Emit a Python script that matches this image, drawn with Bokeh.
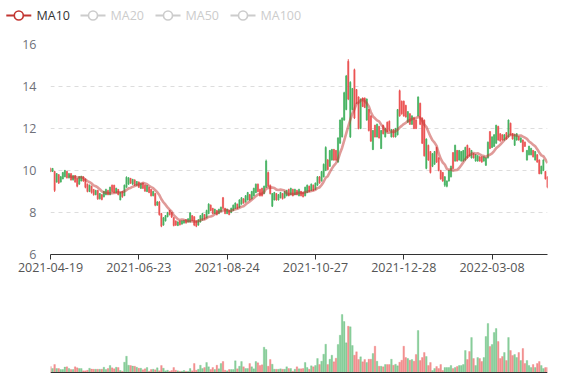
import math
from bokeh.plotting import figure
from bokeh.models import ColumnDataSource, Range1d, FixedTicker, Span
from bokeh.layouts import column
from bokeh.embed import file_html
from bokeh.resources import INLINE
from bokeh.core.properties import value

# ---------------- data ----------------
tick_index = [0, 43, 86, 129, 172, 215]
tick_labels = ["2021-04-19", "2021-06-23", "2021-08-24", "2021-10-27", "2021-12-28", "2022-03-08"]
legend_names = ["MA10", "MA20", "MA50", "MA100"]

open_ = [
    10.10, 9.95, 9.95, 9.45, 9.80, 9.45, 9.60, 9.70, 9.95, 9.65,
    9.85, 9.55, 9.75, 9.60, 9.35, 9.50, 9.70, 9.60, 9.35, 9.00,
    9.25, 9.10, 8.85, 9.05, 8.65, 8.85, 8.75, 8.85, 9.05, 8.85,
    9.30, 9.30, 8.95, 9.10, 8.60, 9.00, 8.80, 9.20, 9.35, 9.62,
    9.35, 9.55, 9.30, 9.45, 9.15, 9.40, 9.30, 9.00, 9.20, 9.10,
    8.80, 8.90, 8.35, 8.50, 7.95, 7.40, 7.60, 7.80, 8.10, 8.00,
    7.75, 7.60, 7.38, 7.60, 7.45, 7.50, 7.65, 7.55, 7.55, 7.85,
    7.80, 7.60, 7.40, 7.55, 7.65, 7.90, 7.75, 7.95, 8.35, 8.20,
    7.95, 8.10, 7.95, 8.05, 8.70, 8.20, 7.95, 8.10, 8.00, 8.10,
    8.20, 8.40, 8.25, 8.40, 8.65, 8.50, 8.60, 8.85, 8.65, 8.80,
    8.95, 9.35, 9.10, 9.15, 8.90, 9.20, 9.90, 9.30, 8.30, 8.60,
    8.90, 8.60, 8.70, 8.90, 8.70, 8.80, 9.10, 8.85, 9.10, 8.85,
    9.05, 8.80, 9.00, 8.95, 8.80, 8.95, 9.25, 9.05, 9.30, 9.10,
    9.30, 9.70, 9.50, 9.70, 10.00, 10.50, 10.20, 10.50, 11.00, 10.95,
    10.40, 11.30, 11.60, 12.40, 12.90, 15.20, 11.60, 12.90, 14.80, 13.85,
    13.50, 12.00, 13.45, 13.45, 12.40, 12.90, 12.60, 11.00, 12.15, 11.60,
    12.10, 11.05, 12.15, 11.60, 12.30, 12.35, 11.60, 11.95, 11.60, 11.70,
    13.80, 13.30, 13.30, 13.10, 12.30, 12.70, 12.20, 12.50, 12.40, 12.60,
    13.20, 12.50, 12.40, 10.10, 11.20, 10.90, 10.20, 10.30, 11.10, 10.60,
    10.00, 9.90, 9.30, 9.25, 9.50, 9.70, 10.85, 10.45, 10.95, 10.50,
    10.45, 10.45, 10.50, 11.20, 11.05, 10.60, 10.80, 10.45, 10.45, 10.65,
    10.65, 10.45, 10.25, 10.60, 11.85, 11.10, 11.15, 11.30, 12.10, 11.75,
    11.70, 11.45, 11.80, 11.60, 12.25, 11.75, 11.20, 11.45, 11.60, 11.35,
    11.45, 11.35, 10.50, 10.75, 10.75, 10.95, 10.50, 10.75, 10.50, 9.85,
    10.00, 9.95, 9.70,
]
close = [
    9.95, 10.10, 9.05, 9.85, 9.40, 9.70, 9.90, 10.00, 9.65, 9.85,
    9.55, 9.75, 9.45, 9.25, 9.70, 9.72, 9.50, 9.20, 9.00, 9.30,
    8.95, 8.85, 9.05, 8.65, 8.90, 8.62, 9.00, 9.10, 8.85, 9.20,
    9.00, 8.95, 9.15, 8.85, 8.95, 8.75, 9.30, 9.68, 9.65, 9.40,
    9.58, 9.30, 9.48, 9.20, 9.38, 9.15, 9.02, 9.28, 8.95, 8.80,
    9.00, 8.35, 8.50, 7.90, 7.35, 7.75, 7.85, 8.00, 7.90, 7.78,
    7.38, 7.40, 7.55, 7.42, 7.60, 7.62, 7.50, 7.70, 7.98, 7.62,
    7.40, 7.35, 7.65, 7.85, 7.95, 7.70, 8.10, 8.40, 8.10, 7.95,
    8.15, 7.90, 8.15, 8.25, 8.20, 7.95, 8.15, 7.90, 8.20, 8.35,
    8.45, 8.20, 8.60, 8.70, 8.45, 8.80, 8.95, 8.60, 9.00, 9.15,
    9.35, 9.00, 8.80, 8.80, 9.25, 10.45, 9.25, 8.90, 8.90, 8.95,
    8.60, 8.85, 8.95, 8.65, 9.00, 9.05, 8.80, 9.15, 8.80, 9.10,
    8.85, 9.10, 8.80, 8.75, 9.20, 9.30, 9.00, 9.35, 9.05, 9.40,
    9.70, 9.40, 9.95, 10.30, 11.10, 10.05, 10.95, 11.00, 10.50, 10.50,
    11.55, 12.40, 12.50, 13.70, 14.50, 13.40, 14.20, 13.90, 12.50, 13.20,
    12.00, 13.40, 13.05, 13.00, 13.40, 11.90, 11.40, 11.90, 11.60, 12.20,
    11.55, 11.90, 11.75, 12.00, 11.85, 11.90, 11.95, 11.60, 12.00, 12.90,
    12.60, 12.70, 12.60, 12.55, 12.80, 12.20, 12.60, 12.00, 12.00, 13.50,
    12.20, 11.30, 10.70, 11.50, 10.50, 9.90, 10.80, 10.90, 10.40, 10.00,
    9.60, 9.50, 9.70, 9.50, 10.00, 10.20, 10.10, 11.20, 10.45, 10.95,
    10.90, 10.95, 11.10, 10.60, 10.70, 10.95, 10.60, 10.75, 10.70, 10.45,
    10.40, 10.65, 10.60, 11.35, 11.05, 11.60, 11.70, 12.15, 11.45, 11.40,
    11.45, 11.70, 11.50, 12.40, 11.70, 11.50, 11.70, 11.75, 11.45, 11.55,
    10.90, 11.15, 10.95, 11.15, 11.05, 10.65, 10.90, 10.40, 9.85, 10.20,
    10.50, 9.60, 9.20,
]
low = [
    9.92, 9.93, 8.98, 9.42, 9.36, 9.43, 9.58, 9.68, 9.62, 9.62,
    9.52, 9.52, 9.42, 9.20, 9.32, 9.48, 9.46, 9.15, 8.96, 8.97,
    8.90, 8.80, 8.82, 8.60, 8.62, 8.58, 8.72, 8.82, 8.82, 8.82,
    8.96, 8.92, 8.92, 8.82, 8.58, 8.70, 8.78, 9.18, 9.32, 9.36,
    9.32, 9.27, 9.27, 9.17, 9.12, 9.12, 8.98, 8.97, 8.92, 8.76,
    8.77, 8.30, 8.32, 7.85, 7.30, 7.37, 7.57, 7.77, 7.86, 7.74,
    7.34, 7.36, 7.35, 7.38, 7.42, 7.47, 7.47, 7.52, 7.52, 7.58,
    7.35, 7.30, 7.37, 7.52, 7.62, 7.66, 7.72, 7.92, 8.06, 7.92,
    7.92, 7.86, 7.92, 8.02, 8.16, 7.92, 7.92, 7.87, 7.97, 8.07,
    8.17, 8.16, 8.22, 8.37, 8.42, 8.47, 8.57, 8.56, 8.62, 8.77,
    8.92, 8.96, 8.76, 8.76, 8.87, 9.17, 9.20, 8.86, 8.26, 8.57,
    8.56, 8.57, 8.67, 8.62, 8.67, 8.77, 8.77, 8.82, 8.77, 8.82,
    8.82, 8.77, 8.77, 8.72, 8.77, 8.92, 8.97, 9.02, 9.02, 9.07,
    9.27, 9.37, 9.47, 9.67, 9.97, 10.00, 10.17, 10.47, 10.46, 10.46,
    10.37, 11.27, 11.57, 12.37, 12.87, 13.35, 11.55, 12.87, 12.45, 13.16,
    11.96, 11.97, 13.02, 12.97, 12.37, 11.86, 11.36, 10.97, 11.57, 11.57,
    11.52, 11.02, 11.72, 11.57, 11.82, 11.87, 11.57, 11.57, 11.57, 11.67,
    12.56, 12.66, 12.56, 12.52, 12.27, 12.17, 12.17, 11.97, 11.97, 12.57,
    12.16, 11.26, 10.66, 10.06, 10.46, 9.86, 10.16, 10.27, 10.36, 9.96,
    9.56, 9.46, 9.22, 9.20, 9.47, 9.67, 10.07, 10.42, 10.42, 10.47,
    10.42, 10.42, 10.47, 10.57, 10.67, 10.57, 10.57, 10.42, 10.42, 10.42,
    10.37, 10.42, 10.22, 10.57, 11.02, 11.07, 11.12, 11.27, 11.42, 11.37,
    11.42, 11.42, 11.47, 11.57, 11.67, 11.47, 11.17, 11.42, 11.42, 11.32,
    10.87, 11.12, 10.47, 10.72, 10.72, 10.62, 10.47, 10.37, 9.82, 9.82,
    9.97, 9.57, 9.15,
]
high = [
    10.14, 10.12, 9.98, 9.88, 9.83, 9.74, 9.93, 10.03, 9.98, 9.88,
    9.88, 9.78, 9.78, 9.63, 9.73, 9.75, 9.72, 9.62, 9.38, 9.33,
    9.28, 9.12, 9.08, 9.08, 8.93, 8.88, 9.03, 9.13, 9.08, 9.23,
    9.33, 9.32, 9.18, 9.12, 8.98, 9.02, 9.33, 9.72, 9.68, 9.65,
    9.60, 9.58, 9.50, 9.48, 9.40, 9.42, 9.32, 9.30, 9.22, 9.12,
    9.03, 8.93, 8.55, 8.55, 7.98, 7.78, 7.88, 8.03, 8.12, 8.02,
    7.78, 7.62, 7.58, 7.62, 7.63, 7.65, 7.68, 7.72, 8.02, 7.88,
    7.82, 7.62, 7.68, 7.88, 7.98, 7.92, 8.13, 8.44, 8.38, 8.22,
    8.18, 8.12, 8.18, 8.28, 8.74, 8.22, 8.18, 8.12, 8.23, 8.38,
    8.48, 8.42, 8.63, 8.73, 8.68, 8.83, 8.98, 8.88, 9.03, 9.18,
    9.38, 9.38, 9.13, 9.18, 9.28, 10.52, 9.95, 9.33, 8.93, 8.98,
    8.93, 8.88, 8.98, 8.93, 9.03, 9.08, 9.13, 9.18, 9.13, 9.13,
    9.08, 9.13, 9.03, 8.98, 9.23, 9.33, 9.28, 9.38, 9.33, 9.43,
    9.73, 9.73, 9.98, 10.33, 11.15, 10.55, 10.98, 11.03, 11.03, 10.98,
    11.58, 12.43, 12.53, 13.75, 14.55, 15.30, 14.25, 13.93, 14.85, 13.88,
    13.53, 13.43, 13.48, 13.48, 13.43, 12.93, 12.63, 11.93, 12.18, 12.23,
    12.13, 11.93, 12.18, 12.03, 12.33, 12.38, 11.98, 11.98, 12.03, 12.93,
    13.85, 13.33, 13.33, 13.13, 12.83, 12.73, 12.63, 12.53, 12.43, 13.53,
    13.23, 12.53, 12.43, 11.53, 11.23, 10.93, 10.83, 10.93, 11.13, 10.63,
    10.03, 9.93, 9.73, 9.53, 10.03, 10.23, 10.88, 11.23, 10.98, 10.98,
    10.93, 10.98, 11.13, 11.23, 11.08, 10.98, 10.83, 10.78, 10.73, 10.68,
    10.68, 10.68, 10.63, 11.38, 11.88, 11.63, 11.73, 12.18, 12.13, 11.78,
    11.73, 11.73, 11.83, 12.43, 12.28, 11.78, 11.73, 11.78, 11.63, 11.58,
    11.48, 11.38, 10.98, 11.18, 11.08, 10.98, 10.93, 10.78, 10.53, 10.23,
    10.53, 9.98, 9.73,
]
volume = [
    6, 4, 8, 4, 4, 3, 3, 5.5, 5.7, 4,
    3, 3, 5.7, 4.7, 4, 4, 1.7, 1.7, 2.3, 4.3,
    3.5, 3.3, 3.3, 3.3, 3.3, 3.3, 5.3, 3, 4, 7,
    4.7, 3.7, 5.3, 5, 2, 1.3, 10.3, 16.3, 7.3, 7,
    6.5, 6.3, 5.3, 4.3, 4.3, 2.7, 3.7, 5, 1.3, 3,
    3.3, 2.7, 4.7, 1.7, 7, 4.3, 1.7, 2.3, 1.3, 2,
    5, 2.3, 1.7, 1.3, 1.3, 2, 1.3, 1.3, 4, 1.7,
    9, 2.3, 3.3, 7.3, 4, 5, 10, 5.7, 3, 5,
    3, 7.3, 3.7, 9, 11, 2.3, 1.7, 3, 3, 3,
    11.7, 3.7, 6.3, 11, 5.7, 4, 4, 9, 5.7, 3.7,
    11, 9.7, 7, 7.7, 25.3, 23, 6.3, 13, 8.3, 3.3,
    3.3, 3.3, 3.7, 3.3, 3.3, 5.7, 4, 4, 1.3, 3.3,
    5.7, 3.7, 3.7, 4, 10, 5, 3.3, 6.7, 5.7, 7,
    14, 8, 11.3, 18.3, 28.3, 8, 13.3, 17.3, 10.7, 14.3,
    28, 37.3, 58, 51, 29.7, 46.3, 45.7, 27, 17.3, 20.7,
    13, 15.7, 10.7, 13, 10, 13.3, 13.3, 19, 26.3, 11.3,
    6.3, 6.3, 5.7, 8, 8, 8, 13.3, 7.3, 8.3, 6.7,
    10.3, 12.3, 26.3, 15, 14, 12.3, 13, 11.3, 18, 42,
    12, 15, 20, 16, 7, 10, 2, 4, 6, 4,
    8, 2, 5, 5, 5, 7, 4, 5, 6, 7,
    7, 8, 22, 13, 21, 35, 14, 7, 15, 14,
    11, 15, 36, 49, 26, 28, 40, 44, 31, 14,
    16, 20, 12, 35, 22, 17, 18, 15, 20, 12,
    24, 9, 12, 7, 5, 8, 5, 9, 11, 7,
    4, 5, 5,
]

# ---------------- derived ----------------
n = len(close)
idx = list(range(n))
UP, DOWN = "#47b262", "#eb5454"
colors = [UP if c >= o else DOWN for o, c in zip(open_, close)]
body_top = [max(o, c) for o, c in zip(open_, close)]
body_bot = [min(o, c) for o, c in zip(open_, close)]
ma10 = [float("nan")] * 9 + [sum(close[i - 9:i + 1]) / 10 for i in range(9, n)]

src = ColumnDataSource(dict(x=idx, o=open_, c=close, lo=low, hi=high,
                            top=body_top, bot=body_bot, col=colors, vol=volume))

FONT = "Open Sans"
W = 570
BL, BR = 50, 23

# ---------------- legend strip (own frame, not aligned with the charts) ----------------
LH = 36
leg = figure(width=W, height=LH, x_range=Range1d(0, W), y_range=Range1d(0, LH),
             x_axis_location=None, y_axis_location=None,
             output_backend="svg", toolbar_location=None,
             min_border=0, min_border_left=0, min_border_right=0,
             min_border_top=0, min_border_bottom=0)
leg.frame_align = False
leg.grid.visible = False
leg.outline_line_color = None
icon_cx = [18.3, 92.5, 167.5, 242.5]
text_x = [36, 110, 185, 260]
leg_cols = ["#c23531", "#cccccc", "#cccccc", "#cccccc"]
txt_cols = ["#333333", "#cccccc", "#cccccc", "#cccccc"]
ly = LH - 15
for cx, tx, lc, tc, name in zip(icon_cx, text_x, leg_cols, txt_cols, legend_names):
    leg.segment(x0=[cx - 12.5], y0=[ly], x1=[cx + 12.5], y1=[ly], line_color=lc, line_width=1.8)
    leg.scatter(x=[cx], y=[ly], size=9, marker="circle", fill_color="white",
                line_color=lc, line_width=1.6)
    leg.text(x=[tx], y=[ly], text=[name], text_font=value(FONT), text_font_size=value("12.5px"),
             text_color=tc, text_baseline="middle", text_align="left")

# ---------------- candlestick ----------------
p = figure(width=W, height=244, x_range=Range1d(0, n - 1), y_range=Range1d(6, 16),
           output_backend="svg", toolbar_location=None,
           min_border_left=BL, min_border_right=BR, min_border_top=8, min_border_bottom=26)
p.outline_line_color = None
p.xgrid.visible = False
p.ygrid.ticker = FixedTicker(ticks=[6, 8, 10, 12, 14, 16])
p.ygrid.grid_line_color = "#dddddd"
p.ygrid.grid_line_dash = "4 4"
p.yaxis.ticker = FixedTicker(ticks=[6, 8, 10, 12, 14, 16])
p.yaxis.axis_line_color = None
p.yaxis.major_tick_line_color = None
p.yaxis.minor_tick_line_color = None
p.yaxis.major_label_standoff = 8
p.yaxis.major_label_text_font = FONT
p.yaxis.major_label_text_font_size = "12.5px"
p.yaxis.major_label_text_color = "#6e7079"
p.xaxis.ticker = FixedTicker(ticks=tick_index)
p.xaxis.major_label_overrides = {i: s for i, s in zip(tick_index, tick_labels)}
p.xaxis.axis_line_color = "#333333"
p.xaxis.major_tick_line_color = "#333333"
p.xaxis.major_tick_out = 5
p.xaxis.major_tick_in = 0
p.xaxis.minor_tick_line_color = None
p.xaxis.major_label_standoff = 3
p.xaxis.major_label_text_font = FONT
p.xaxis.major_label_text_font_size = "12.5px"
p.xaxis.major_label_text_color = "#555555"

p.segment(x0="x", y0="lo", x1="x", y1="hi", line_color="col", line_width=1, source=src)
p.vbar(x="x", width=0.62, top="top", bottom="bot", fill_color="col", line_color="col",
       line_width=0.5, source=src)
p.line(idx, ma10, line_color="#c23531", line_alpha=0.5, line_width=2.6)

# ---------------- volume ----------------
v = figure(width=W, height=96, x_range=p.x_range, y_range=Range1d(-4, 92),
           x_axis_location=None, y_axis_location=None,
           output_backend="svg", toolbar_location=None,
           min_border_left=BL, min_border_right=BR, min_border_top=0, min_border_bottom=0)
v.grid.visible = False
v.outline_line_color = None
v.vbar(x="x", width=0.8, top="vol", bottom=0, fill_color="col", fill_alpha=0.62,
       line_color="col", line_alpha=0.4, line_width=0.5, source=src)
v.add_layout(Span(location=0, dimension="width", line_color="#333333", line_width=1))

layout = column(leg, p, v, spacing=0)
open("out.html", "w").write(file_html(layout, INLINE))
